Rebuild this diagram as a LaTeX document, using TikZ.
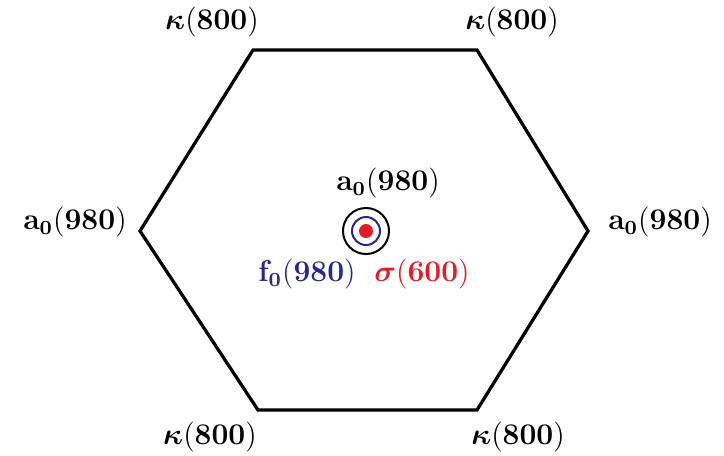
\documentclass[tikz,border=0pt]{standalone}
\usepackage{amsmath,bm}
\usepackage{xcolor}
\usepackage{tikz}
\usetikzlibrary{positioning}
\definecolor{fblue}{RGB}{40,40,140}
\definecolor{sred}{RGB}{222,30,40}
\tikzset{
  hexedge/.style={draw, line width=1.3pt, line join=miter},
  mlabel/.style={inner sep=1pt, font=\large},
  ring/.style={draw, line width=0.8pt}
}
\begin{document}
\begin{tikzpicture}[x=0.4pt,y=0.4pt]
  \useasboundingbox (-365,-224) rectangle (359,231);
  \coordinate (tl) at (-112,181);
  \coordinate (tr) at (112,181);
  \coordinate (r) at (223,0);
  \coordinate (br) at (112,-179);
  \coordinate (bl) at (-107,-179);
  \coordinate (l) at (-225,0);
  \coordinate (c) at (1,0);

  \draw[hexedge] (tl) -- (tr) -- (r) -- (br) -- (bl) -- (l) -- cycle;

  \node[mlabel] (ktl) at (-153,209) {$\bm{\kappa}(\mathbf{800})$};
  \node[mlabel] (ktr) at (147,209) {$\bm{\kappa}(\mathbf{800})$};
  \node[mlabel] (kbl) at (-155,-206) {$\bm{\kappa}(\mathbf{800})$};
  \node[mlabel] (kbr) at (153,-206) {$\bm{\kappa}(\mathbf{800})$};
  \node[mlabel] (al) at (-290,9) {$\mathbf{a_0(980)}$};
  \node[mlabel] (ar) at (295,9) {$\mathbf{a_0(980)}$};

  % states at the centre
  \node[ring, circle, inner sep=0pt, minimum size=18.4pt] (outer) at (c) {};
  \node[ring, draw=fblue, circle, inner sep=0pt, minimum size=11.2pt] (inner) at (c) {};
  \fill[sred] (c) circle (7);
  \node[mlabel] (ac) at (23,48) {$\mathbf{a_0(980)}$};
  \node[mlabel, text=fblue] (fc) at (-58,-43) {$\mathbf{f_0(980)}$};
  \node[mlabel, text=sred] (sc) at (57,-43) {$\bm{\sigma}(\mathbf{600})$};
\end{tikzpicture}
\end{document}
